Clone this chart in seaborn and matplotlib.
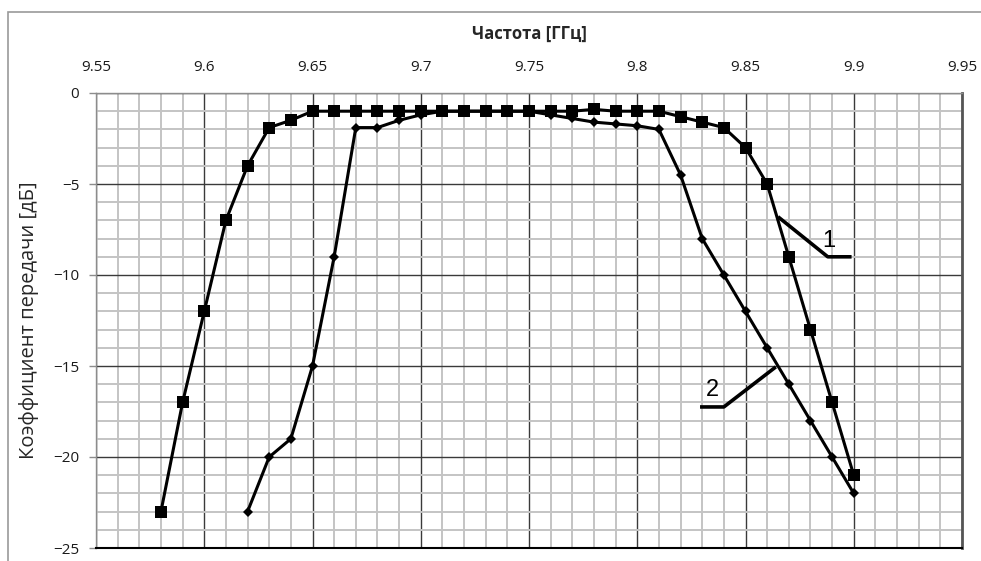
import matplotlib
matplotlib.use("Agg")
import matplotlib.pyplot as plt
import matplotlib.patches as mpatches
from matplotlib.ticker import MultipleLocator
import pandas as pd
import seaborn as sns

# данные
freq_1 = [9.58, 9.59, 9.60, 9.61, 9.62, 9.63, 9.64, 9.65, 9.66, 9.67, 9.68,
          9.69, 9.70, 9.71, 9.72, 9.73, 9.74, 9.75, 9.76, 9.77, 9.78, 9.79,
          9.80, 9.81, 9.82, 9.83, 9.84, 9.85, 9.86, 9.87, 9.88, 9.89, 9.90]
gain_1 = [-23, -17, -12, -7, -4, -1.9, -1.5, -1, -1, -1, -1,
          -1, -1, -1, -1, -1, -1, -1, -1, -1, -0.9, -1,
          -1, -1, -1.3, -1.6, -1.9, -3, -5, -9, -13, -17, -21]

freq_2 = [9.62, 9.63, 9.64, 9.65, 9.66, 9.67, 9.68, 9.69, 9.70, 9.71,
          9.72, 9.73, 9.74, 9.75, 9.76, 9.77, 9.78, 9.79, 9.80, 9.81,
          9.82, 9.83, 9.84, 9.85, 9.86, 9.87, 9.88, 9.89, 9.90]
gain_2 = [-23, -20, -19, -15, -9, -1.9, -1.9, -1.5, -1.2, -1,
          -1, -1, -1, -1, -1.2, -1.4, -1.6, -1.7, -1.8, -2,
          -4.5, -8, -10, -12, -14, -16, -18, -20, -22]

x_ticks = [9.55, 9.6, 9.65, 9.7, 9.75, 9.8, 9.85, 9.9, 9.95]
x_tick_labels = ["9.55", "9.6", "9.65", "9.7", "9.75", "9.8", "9.85", "9.9", "9.95"]
y_ticks = [0, -5, -10, -15, -20, -25]

# выноски "1" и "2"
label_1_x = [9.865, 9.888, 9.899]
label_1_y = [-6.8, -9.0, -9.0]
label_2_x = [9.864, 9.840, 9.829]
label_2_y = [-15.05, -17.25, -17.25]

df = pd.concat([
    pd.DataFrame({"f": freq_1, "g": gain_1, "curve": "1"}),
    pd.DataFrame({"f": freq_2, "g": gain_2, "curve": "2"}),
])

sns.set_style("white")
plt.rcParams["font.family"] = ["Open Sans", "DejaVu Sans"]

fig = plt.figure(figsize=(9.81, 5.61), dpi=100)
ax = fig.add_axes([96 / 981, 1 - 548 / 561, 866 / 981, 455 / 561])

# рамка области диаграммы
fig.add_artist(mpatches.Rectangle((8 / 981, -0.2), 1.2, 1.2 - 12 / 561,
                                  transform=fig.transFigure, fill=False,
                                  edgecolor="#9a9a9a", linewidth=1.2))

ax.set_xlim(9.55, 9.95)
ax.set_ylim(-25, 0)
ax.xaxis.set_minor_locator(MultipleLocator(0.01))
ax.yaxis.set_minor_locator(MultipleLocator(1))
ax.set_xticks(x_ticks)
ax.set_xticklabels(x_tick_labels)
ax.set_yticks(y_ticks)

ax.grid(which="minor", color="#c4c4c4", linewidth=1.4)
ax.grid(which="major", color="#3a3a3a", linewidth=1.0)
ax.set_axisbelow(True)

sns.lineplot(data=df, x="f", y="g", hue="curve", style="curve",
             palette=["black", "black"], markers={"1": "s", "2": "D"},
             dashes=False, linewidth=2.2, markeredgewidth=0,
             legend=False, ax=ax, sort=False)
lines = ax.get_lines()
lines[0].set_markersize(9)
lines[1].set_markersize(5.5)

ax.plot(label_1_x, label_1_y, color="black", linewidth=2.6, solid_capstyle="butt")
ax.plot(label_2_x, label_2_y, color="black", linewidth=2.6, solid_capstyle="butt")
ax.text(9.8885, -8.75, "1", fontsize=17, family="Liberation Sans",
        color="black", ha="center", va="bottom")
ax.text(9.8345, -16.9, "2", fontsize=17, family="Liberation Sans",
        color="black", ha="center", va="bottom")

ax.xaxis.tick_top()
ax.xaxis.set_label_position("top")
ax.tick_params(axis="x", which="both", length=0, pad=13, labelsize=11, labelcolor="#1a1a1a")
ax.tick_params(axis="y", which="major", length=5, width=1, color="#8c8c8c",
               pad=7, labelsize=11, labelcolor="#1a1a1a", left=True)
ax.tick_params(axis="y", which="minor", length=0)

ax.set_xlabel("Частота [ГГц]", fontsize=12, fontweight="bold", labelpad=15)
ax.set_ylabel("Коэффициент передачи [дБ]", fontsize=14.5)
ax.yaxis.set_label_coords(-0.066, 0.5)

for side in ["left", "top"]:
    ax.spines[side].set_color("#8c8c8c")
    ax.spines[side].set_linewidth(1.0)
ax.spines["bottom"].set_color("black")
ax.spines["bottom"].set_linewidth(1.5)
ax.spines["right"].set_color("#555555")
ax.spines["right"].set_linewidth(2.0)

fig.savefig("out.png", dpi=100)
